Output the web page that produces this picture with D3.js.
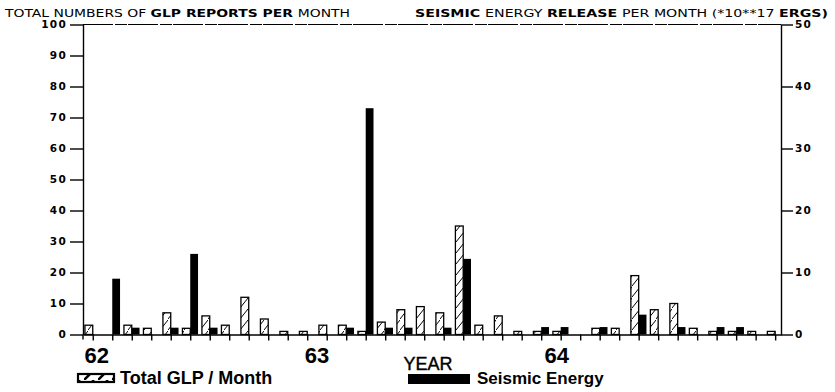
<!DOCTYPE html>
<html>
<head>
<meta charset="utf-8">
<title>GLP reports and seismic energy</title>
<style>
  body { margin: 0; background: #fff; }
  svg { display: block; }
  .axis text { font-family: "DejaVu Sans", sans-serif; font-weight: bold; font-size: 10.5px; letter-spacing: 1.3px; fill: #000; }
  .axis path, .axis line { stroke: #000; stroke-width: 1.4; }
</style>
</head>
<body>
<script src="https://cdnjs.cloudflare.com/ajax/libs/d3/7.8.5/d3.min.js"></script>
<script>
// month index 0..35 = 1962 .. 1964
var months = d3.range(36);

// total GLP reports per month (left axis)
var glp = [3, 0, 3, 2, 7, 2, 6, 3, 12, 5, 1, 1,
           3, 3, 1, 4, 8, 9, 7, 35, 3, 6, 1, 1,
           1, 0, 2, 2, 19, 8, 10, 2, 1, 1, 1, 1];

// seismic energy release per month, *10**17 ergs (right axis)
var seismic = [0, 9, 1.1, 0, 1.1, 13, 1.1, 0, 0, 0, 0, 0,
               0, 1.1, 36.5, 1.1, 1.1, 0, 1.1, 12.2, 0, 0, 0, 1.2,
               1.2, 0, 1.2, 0, 3.2, 0, 1.2, 0, 1.2, 1.2, 0, 0];

var leftTicks  = d3.range(0, 101, 10);
var rightTicks = d3.range(0, 51, 10);
var yearLabels = ["62", "63", "64"];
var yearPos    = [0.2, 11.5, 23.8];

var width = 835, height = 392;
var x0 = 83, x1 = 781, yTop = 24.5, yBase = 334.5;

var svg = d3.select("body").append("svg")
    .attr("width", width)
    .attr("height", height);

var x  = d3.scaleLinear().domain([-0.5, 35.3]).range([x0, x1]);
var yL = d3.scaleLinear().domain([0, 100]).range([yBase, yTop]);
var yR = d3.scaleLinear().domain([0, 50]).range([yBase, yTop]);
var bw = (x(1) - x(0)) * 0.4;

// hatch pattern
var defs = svg.append("defs");
defs.append("pattern")
    .attr("id", "hatch")
    .attr("patternUnits", "userSpaceOnUse")
    .attr("width", 8).attr("height", 11)
  .append("path")
    .attr("d", "M0,11 L8,1")
    .attr("stroke", "#000").attr("stroke-width", 1);
defs.append("pattern")
    .attr("id", "hatchBig")
    .attr("patternUnits", "userSpaceOnUse")
    .attr("width", 14).attr("height", 10)
  .append("path")
    .attr("d", "M0,10 L10,0")
    .attr("stroke", "#000").attr("stroke-width", 2.5);

// titles
var t1 = svg.append("text")
    .attr("x", 5).attr("y", 17)
    .attr("textLength", 345).attr("lengthAdjust", "spacingAndGlyphs")
    .style("font-family", "DejaVu Sans, sans-serif").style("font-size", "11px");
t1.append("tspan").text("TOTAL NUMBERS OF ");
t1.append("tspan").style("font-weight", "bold").text("GLP REPORTS PER ");
t1.append("tspan").text("MONTH");

var t2 = svg.append("text")
    .attr("x", 415).attr("y", 17)
    .attr("textLength", 413).attr("lengthAdjust", "spacingAndGlyphs")
    .style("font-family", "DejaVu Sans, sans-serif").style("font-size", "11px");
t2.append("tspan").style("font-weight", "bold").text("SEISMIC ");
t2.append("tspan").text("ENERGY ");
t2.append("tspan").style("font-weight", "bold").text("RELEASE ");
t2.append("tspan").text("PER MONTH (*10**17 ");
t2.append("tspan").style("font-weight", "bold").text("ERGS)");

// top border (faint, broken in the print)
svg.append("line")
    .attr("x1", x0).attr("x2", x1)
    .attr("y1", yTop).attr("y2", yTop)
    .attr("stroke", "#000").attr("stroke-width", 1)
    .attr("stroke-dasharray", "30,2,12,1");

// axes
svg.append("g").attr("class", "axis")
    .attr("transform", "translate(" + x0 + ",0)")
    .call(d3.axisLeft(yL).tickValues(leftTicks).tickSize(13).tickPadding(3).tickSizeOuter(0));

svg.append("g").attr("class", "axis")
    .attr("transform", "translate(" + x1 + ",0)")
    .call(d3.axisRight(yR).tickValues(rightTicks).tickSize(12).tickPadding(2).tickSizeOuter(0));

svg.append("g").attr("class", "axis")
    .attr("transform", "translate(0," + yBase + ")")
    .call(d3.axisBottom(x).tickValues(months).tickSize(6).tickFormat("").tickSizeOuter(0));

// left axis runs slightly below the baseline
svg.append("line")
    .attr("x1", x0).attr("x2", x0)
    .attr("y1", yBase).attr("y2", yBase + 5)
    .attr("stroke", "#000").attr("stroke-width", 1.4);

// GLP bars
svg.append("g").selectAll("rect")
    .data(months.filter(function(i) { return glp[i] > 0; }))
    .enter().append("rect")
    .attr("x", function(i) { return x(i) - bw; })
    .attr("y", function(i) { return yL(glp[i]); })
    .attr("width", bw)
    .attr("height", function(i) { return yBase - yL(glp[i]); })
    .attr("fill", "url(#hatch)")
    .attr("stroke", "#000").attr("stroke-width", 1.3);

// seismic bars
svg.append("g").selectAll("rect")
    .data(months.filter(function(i) { return seismic[i] > 0; }))
    .enter().append("rect")
    .attr("x", function(i) { return x(i); })
    .attr("y", function(i) { return yR(seismic[i]); })
    .attr("width", bw)
    .attr("height", function(i) { return yBase - yR(seismic[i]); })
    .attr("fill", "#000");

// year labels
svg.append("g").selectAll("text")
    .data(yearLabels)
    .enter().append("text")
    .attr("x", function(d, i) { return x(yearPos[i]); })
    .attr("y", 363)
    .attr("text-anchor", "middle")
    .style("font-family", "Liberation Sans, Arial, sans-serif")
    .style("font-weight", "bold").style("font-size", "22px")
    .text(function(d) { return d; });

svg.append("text")
    .attr("x", 428).attr("y", 370)
    .attr("text-anchor", "middle")
    .style("font-family", "Liberation Sans, Arial, sans-serif")
    .style("font-size", "18px")
    .attr("stroke", "#000").attr("stroke-width", 0.4)
    .text("YEAR");

// legend
svg.append("rect")
    .attr("x", 78).attr("y", 374).attr("width", 36).attr("height", 8)
    .attr("fill", "url(#hatchBig)")
    .attr("stroke", "#000").attr("stroke-width", 2.2);
svg.append("text")
    .attr("x", 120).attr("y", 384)
    .style("font-family", "Liberation Sans, Arial, sans-serif")
    .style("font-weight", "bold").style("font-size", "18px")
    .text("Total GLP / Month");

svg.append("rect")
    .attr("x", 408).attr("y", 374).attr("width", 62).attr("height", 10)
    .attr("fill", "#000");
svg.append("text")
    .attr("x", 477).attr("y", 384)
    .style("font-family", "Liberation Sans, Arial, sans-serif")
    .style("font-weight", "bold").style("font-size", "17px")
    .text("Seismic Energy");
</script>
</body>
</html>
